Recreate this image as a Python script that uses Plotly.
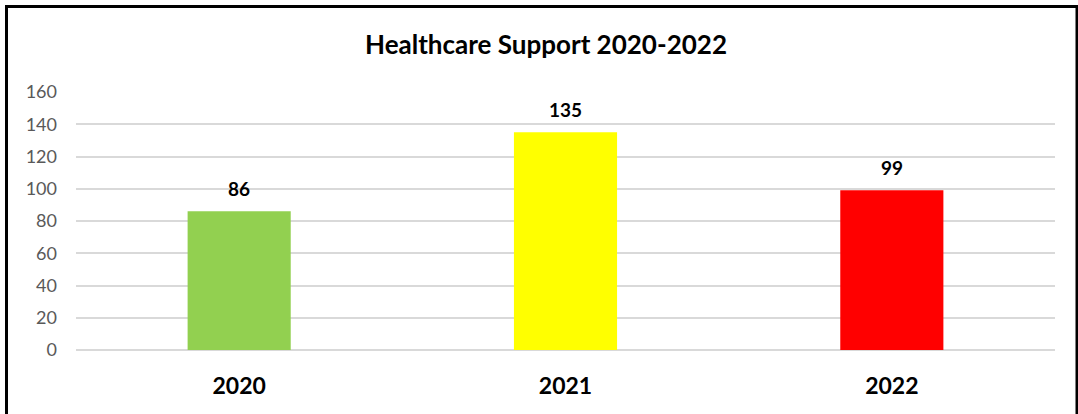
import plotly.graph_objects as go

categories = ["2020", "2021", "2022"]
values = [86, 135, 99]
colors = ["#92D050", "#FFFF00", "#FF0000"]
y_ticks = [0, 20, 40, 60, 80, 100, 120, 140, 160]
title_text = "Healthcare Support 2020-2022"

FONT = "Lato, Carlito, Calibri, sans-serif"

fig = go.Figure()
fig.add_trace(go.Bar(
    x=categories, y=values, marker=dict(color=colors, line=dict(width=0)),
    width=0.316, hoverinfo="skip",
))

for i, v in enumerate(values):
    fig.add_annotation(x=i, y=v, xref="x", yref="y", text=f"<b>{v}</b>",
                       showarrow=False, yshift=23, yanchor="middle",
                       font=dict(family=FONT, size=19, color="#000000"))

W, H = 1078, 414
L, R, T, B = 76, 23, 92, 64
pw, ph = W - L - R, H - T - B

def px_to_paper_x(px):
    return (px - L) / pw

def px_to_paper_y(py):
    return (H - B - py) / ph

fig.add_shape(type="rect", xref="paper", yref="paper",
              x0=px_to_paper_x(6.5), x1=px_to_paper_x(1077),
              y0=px_to_paper_y(430), y1=px_to_paper_y(6.5),
              line=dict(color="#000000", width=3), fillcolor="rgba(0,0,0,0)",
              layer="above")

fig.update_layout(
    width=W, height=H,
    margin=dict(l=L, r=R, t=T, b=B, pad=0),
    paper_bgcolor="white", plot_bgcolor="white",
    showlegend=False,
    title=dict(text=f"<b>{title_text}</b>", x=546 / W, xanchor="center",
               y=1 - 45 / H, yanchor="middle", yref="container",
               font=dict(family=FONT, size=26, color="#000000")),
    xaxis=dict(type="category", range=[-0.5, 2.5], showgrid=False,
               showline=False, zeroline=False, ticks="",
               tickfont=dict(family=FONT, size=23, color="#000000", weight="bold"),
               ticklabelstandoff=20),
    yaxis=dict(range=[0, 160], tickvals=y_ticks, showgrid=True,
               gridcolor="#D9D9D9", gridwidth=1.5, zeroline=True,
               zerolinecolor="#D9D9D9", zerolinewidth=1.5, showline=False,
               ticks="", tickfont=dict(family=FONT, size=18, color="#595959"),
               ticklabelstandoff=18),
)

fig.write_html("out.html")
